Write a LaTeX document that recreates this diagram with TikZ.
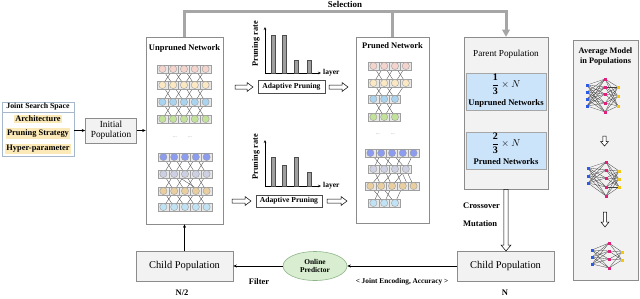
\documentclass[tikz,border=0pt]{standalone}
\usepackage{fontspec}
\setmainfont{Liberation Serif}
\usetikzlibrary{arrows.meta,shapes.geometric}
\definecolor{pinkc}{HTML}{F4D3CC}
\definecolor{yellowc}{HTML}{FBE8C2}
\definecolor{lbluec}{HTML}{A9D3EE}
\definecolor{greenc}{HTML}{C2E29A}
\definecolor{bluec}{HTML}{8C9CF0}
\definecolor{lavc}{HTML}{CDD0E2}
\definecolor{tanc}{HTML}{E9CFA0}
\definecolor{lbluetwo}{HTML}{BFE3F5}
\definecolor{itemblue}{HTML}{CCE4FA}
\definecolor{predfill}{HTML}{D9EED0}
\definecolor{predline}{HTML}{8FB48A}
\definecolor{hilite}{HTML}{FCE9B8}
\definecolor{jssline}{HTML}{A8B8CC}
\definecolor{panel}{HTML}{F2F2F2}
\definecolor{edge}{HTML}{8C8C8C}
\definecolor{selc}{HTML}{A6A6A6}
\definecolor{dotb}{HTML}{2D5BE3}
\definecolor{dotp}{HTML}{E0207A}
\definecolor{doty}{HTML}{F2C812}
\tikzset{
  box/.style={draw=edge, line width=0.6pt, inner sep=0pt},
  panelbox/.style={box, fill=panel},
  arr/.style={line width=0.5pt, -{Stealth[length=3.5pt,width=3pt]}},
  sel/.style={line width=3pt, draw=selc},
  hollow/.style={draw=black, fill=white, line width=0.5pt, line join=miter},
  cell/.style={draw=gray!75, fill=gray!18, line width=0.35pt},
  lnk/.style={draw=black!70, line width=0.35pt},
  mlnk/.style={draw=black!75, line width=0.3pt},
  lbl/.style={font=\bfseries\fontsize{8.5}{9.5}\selectfont, inner sep=0pt},
  hl/.style={fill=hilite, font=\bfseries\fontsize{8.4}{9}\selectfont, inner xsep=1.5pt, inner ysep=1.2pt},
}
\newcommand{\netrow}[4]{%
  \foreach \i in {1,...,#3}{%
    \pgfmathsetmacro\cx{#1+(\i-0.5)*10.8}
    \draw[cell] ({\cx-5.4},{#2-4}) rectangle ({\cx+5.4},{#2+4});
    \filldraw[fill=#4, draw=gray!80, line width=0.35pt] (\cx,#2) circle (3.6pt);
  }}
\newcommand{\netlinks}[6]{%
  \foreach \i in {1,...,#3}{%
    \foreach \j in {1,...,#6}{%
      \pgfmathsetmacro\xa{#1+(\i-0.5)*10.8}
      \pgfmathsetmacro\xb{#4+(\j-0.5)*10.8}
      \pgfmathsetmacro\dd{abs(\xa-\xb)}
      \ifdim\dd pt>5pt \ifdim\dd pt<16pt \draw[lnk] (\xa,#2) -- (\xb,#5); \fi\fi
    }}}
\newcommand{\harrow}[3]{% x1 x2 y
  \draw[hollow] (#1,{#3-2}) -- ({#2-6},{#3-2}) -- ({#2-6},{#3-4.5}) -- (#2,#3) -- ({#2-6},{#3+4.5}) -- ({#2-6},{#3+2}) -- (#1,{#3+2}) -- cycle;}
\newcommand{\varrow}[6]{% x y1 y2 shafthalf headhalf headlen
  \draw[hollow] ({#1-#4},#2) -- ({#1-#4},{#3-#6}) -- ({#1-#5},{#3-#6}) -- (#1,#3) -- ({#1+#5},{#3-#6}) -- ({#1+#4},{#3-#6}) -- ({#1+#4},#2) -- cycle;}
\newcommand{\avgnet}[3]{% left list, mid list, right list
  \foreach \a in {#1}{\foreach \b in {#2}{\draw[mlnk] \a -- \b;}}
  \foreach \b in {#2}{\foreach \c in {#3}{\draw[mlnk] \b -- \c;}}
  \foreach \a in {#1}{\fill[dotb] \a ++(-1.5,-1.5) rectangle ++(3,3);}
  \foreach \b in {#2}{\fill[dotp] \b ++(-1.5,-1.5) rectangle ++(3,3);}
  \foreach \c in {#3}{\fill[doty] \c ++(-1.5,-1.5) rectangle ++(3,3);}}
\begin{document}
\begin{tikzpicture}[x=1pt,y=-1pt]
\useasboundingbox (0,0) rectangle (640,298);

% ---- Joint search space
\node[draw=jssline, line width=0.7pt, fill=white, minimum width=72pt, minimum height=54pt, inner sep=0pt] (jss) at (38,129) {};
\draw[draw=jssline, line width=0.6pt] (2,112) -- (74,112);
\node[lbl, font=\bfseries\fontsize{7.8}{8}\selectfont] (jsst) at (38,107) {Joint Search Space};
\node[hl] (arch) at (38,119) {Architecture};
\node[hl] (pstr) at (38,133.5) {Pruning Strategy};
\node[hl] (hyp) at (38,149) {Hyper-parameter};

% ---- Initial population
\node[panelbox, minimum width=51pt, minimum height=25pt, align=center, font=\fontsize{9.3}{10}\selectfont] (init) at (111,130.5) {Initial\\Population};
\draw[arr] (jss.east |- init) -- (init.west);

% ---- Unpruned network panel
\node[box, fill=white, minimum width=77pt, minimum height=187pt] (unp) at (184.5,130.5) {};
\node[lbl] (unpt) at (184.5,48) {Unpruned Network};
\draw[arr] (init.east) -- (unp.west |- init);

% top unpruned net
\netlinks{157}{69}{5}{157}{85}{5}
\netlinks{157}{85}{5}{157}{102}{5}
\netlinks{157}{102}{5}{157}{119}{5}
\netrow{157}{69}{5}{pinkc}
\netrow{157}{85}{5}{yellowc}
\netrow{157}{102}{5}{lbluec}
\netrow{157}{119}{5}{greenc}
\node[font=\fontsize{5}{5}\selectfont, text=gray] (ud1) at (175,137) {...};
\node[font=\fontsize{5}{5}\selectfont, text=gray] (ud2) at (190,137) {...};
% bottom unpruned net
\netlinks{158}{157}{5}{158}{174}{5}
\netlinks{158}{174}{5}{158}{191}{5}
\netlinks{158}{191}{5}{158}{207}{5}
\draw[lnk] (174.2,174) -- (200.2,191);
\netrow{158}{157}{5}{bluec}
\netrow{158}{174}{5}{lavc}
\netrow{158}{191}{5}{tanc}
\netrow{158}{207}{5}{lbluetwo}

% ---- Pruning charts
\draw[line width=0.5pt, -{Stealth[length=3pt,width=2.5pt]}] (265,73) -- (265,27);
\draw[line width=0.5pt, -{Stealth[length=3pt,width=2.5pt]}] (265,73) -- (321,73);
\foreach \bx/\by in {273/35, 284/35, 296/60, 309/60}
  \filldraw[fill=gray!75, draw=black!70, line width=0.4pt] ({\bx-2.2},\by) rectangle ({\bx+2.2},73);
\node[lbl, font=\bfseries\fontsize{8.3}{9}\selectfont, rotate=90] (pr1) at (256,44) {Pruning rate};
\node[lbl, font=\bfseries\fontsize{7.5}{8}\selectfont, anchor=west] (ly1) at (323,73) {layer};
\node[box, draw=black!70, fill=white, minimum width=67pt, minimum height=13pt, font=\bfseries\fontsize{7.6}{8}\selectfont] (ap1) at (291.5,86.5) {Adaptive Pruning};
\harrow{235}{253}{87}
\harrow{329}{348}{87}

\draw[line width=0.5pt, -{Stealth[length=3pt,width=2.5pt]}] (265,186) -- (265,140);
\draw[line width=0.5pt, -{Stealth[length=3pt,width=2.5pt]}] (265,186) -- (321,186);
\foreach \bx/\by in {273/157, 284/165, 296/157, 309/172}
  \filldraw[fill=gray!75, draw=black!70, line width=0.4pt] ({\bx-2.2},\by) rectangle ({\bx+2.2},186);
\node[lbl, font=\bfseries\fontsize{8.3}{9}\selectfont, rotate=90] (pr2) at (256,157) {Pruning rate};
\node[lbl, font=\bfseries\fontsize{7.5}{8}\selectfont, anchor=west] (ly2) at (323,186) {layer};
\node[box, draw=black!70, fill=white, minimum width=66pt, minimum height=12pt, font=\bfseries\fontsize{7.6}{8}\selectfont] (ap2) at (289,201) {Adaptive Pruning};
\harrow{232}{251}{201}
\harrow{327}{347}{201}

% ---- Pruned network panel
\node[box, fill=white, minimum width=73pt, minimum height=186pt] (prn) at (392.5,130) {};
\node[lbl] (prnt) at (392.5,46) {Pruned Network};
\netlinks{368}{66}{4}{368}{83}{4}
\netlinks{368}{83}{4}{368}{99}{3}
\netlinks{368}{99}{3}{368}{117}{3}
\netrow{368}{66}{4}{pinkc}
\netrow{368}{83}{4}{yellowc}
\netrow{368}{99}{3}{lbluec}
\netrow{368}{117}{3}{greenc}
\node[font=\fontsize{5}{5}\selectfont, text=gray] (pd1) at (378,134) {...};
\node[font=\fontsize{5}{5}\selectfont, text=gray] (pd2) at (393,134) {...};
\netlinks{365}{153}{5}{368}{169}{4}
\netlinks{368}{169}{4}{365}{186}{5}
\netlinks{365}{186}{5}{368}{203}{3}
\draw[lnk] (400.4,169) -- (408.2,186);
\netrow{365}{153}{5}{bluec}
\netrow{368}{169}{4}{lavc}
\netrow{365}{186}{5}{tanc}
\netrow{368}{203}{3}{lbluetwo}

% ---- Parent population
\node[panelbox, minimum width=84pt, minimum height=152pt] (par) at (506,113) {};
\node[font=\fontsize{9.2}{10}\selectfont, inner sep=0pt] (part) at (506,54) {Parent Population};
\node[draw=gray!70, fill=itemblue, line width=0.5pt, minimum width=80pt, minimum height=37pt, inner sep=0pt] (b1) at (506,91.5) {};
\node[inner sep=0pt, font=\fontsize{10}{11}\selectfont] (f1) at (506,84) {$\displaystyle\frac{\mathbf{1}}{\mathbf{3}}\times N$};
\node[lbl, font=\bfseries\fontsize{8.6}{9}\selectfont] (u1) at (506,103) {Unpruned Networks};
\node[draw=gray!70, fill=itemblue, line width=0.5pt, minimum width=80pt, minimum height=37pt, inner sep=0pt] (b2) at (506,150.5) {};
\node[inner sep=0pt, font=\fontsize{10}{11}\selectfont] (f2) at (506,143) {$\displaystyle\frac{\mathbf{2}}{\mathbf{3}}\times N$};
\node[lbl, font=\bfseries\fontsize{8.6}{9}\selectfont] (u2) at (506,162) {Pruned Networks};

% ---- Selection
\coordinate (sl) at (184.5,11);
\coordinate (sr) at (506,11);
\coordinate (sm) at (392.5,11);
\draw[sel, line cap=butt] (unp.north) -- (sl) -- (sr) -- ([yshift=6pt]par.north);
\draw[sel] (prn.north) -- (sm);
\fill[selc] ([xshift=-4pt,yshift=7pt]par.north) -- (par.north) -- ([xshift=4pt,yshift=7pt]par.north) -- cycle;
\node[lbl, font=\bfseries\fontsize{8.9}{9}\selectfont] (selt) at (345,4) {Selection};

% ---- Child populations & predictor
\node[panelbox, minimum width=97pt, minimum height=30pt, font=\fontsize{10.4}{11}\selectfont] (chr) at (505.5,266) {Child Population};
\node[panelbox, minimum width=97pt, minimum height=30pt, font=\fontsize{10.4}{11}\selectfont] (chl) at (184.5,266) {Child Population};
\node[ellipse, draw=predline, fill=predfill, line width=0.6pt, minimum width=64pt, minimum height=29pt, inner sep=0pt, align=center, font=\bfseries\fontsize{7.4}{8.5}\selectfont] (pred) at (315,266) {Online\\Predictor};
\varrow{506}{189.3}{251}{2.2}{5}{6}
\node[lbl, anchor=west] (cro) at (463,206) {Crossover};
\node[lbl, anchor=west] (mut) at (463,224) {Mutation};
\draw[arr] (chr.west) -- (pred.east);
\draw[arr] (pred.west) -- (chl.east);
\draw[arr] (chl.north) -- (unp.south);
\node[lbl, font=\bfseries\fontsize{7.3}{8}\selectfont] (jea) at (402,281.5) {< Joint Encoding, Accuracy >};
\node[lbl, font=\bfseries\fontsize{8.4}{9}\selectfont] (filt) at (259,282) {Filter};
\node[lbl] (n2) at (182,293) {N/2};
\node[lbl] (nn) at (505,293) {N};

% ---- Average model panel
\node[panelbox, minimum width=65pt, minimum height=240pt] (avg) at (605.5,160) {};
\node[lbl, font=\bfseries\fontsize{8.3}{10}\selectfont, align=center] (avgt) at (605.5,57) {Average Model\\in Populations};
\avgnet{(587,85),(587,92),(587,99),(587,106)}{(605,79),(605,87),(605,94),(605,103),(605,112)}{(618,87),(618,96),(618,106)}
\avgnet{(588,168),(588,176),(588,183)}{(606,162),(606,170),(606,178),(606,187),(606,196)}{(619,171),(619,179),(619,187)}
\avgnet{(592,250),(592,257),(592,264)}{(609,243),(609,251),(609,259),(609,268)}{(622,252),(622,260)}
\varrow{604.5}{136}{146}{1.6}{4}{4.5}
\varrow{605}{212}{227}{1.6}{4}{5}
\end{tikzpicture}
\end{document}
